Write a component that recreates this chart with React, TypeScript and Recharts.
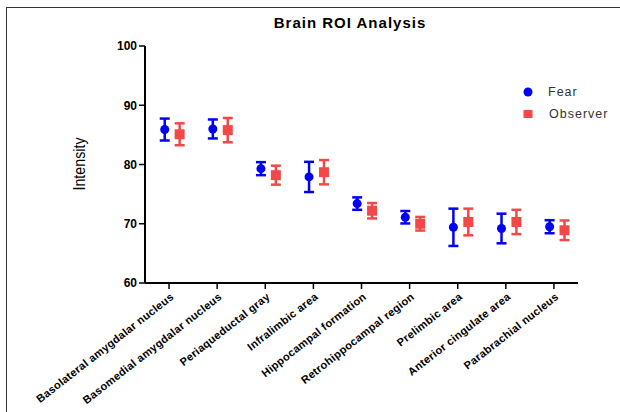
import React from "react";
import {
  ScatterChart,
  Scatter,
  XAxis,
  YAxis,
  ErrorBar,
} from "recharts";

const regions = [
  "Basolateral amygdalar nucleus",
  "Basomedial amygdalar nucleus",
  "Periaqueductal gray",
  "Infralimbic area",
  "Hippocampal formation",
  "Retrohippocampal region",
  "Prelimbic area",
  "Anterior cingulate area",
  "Parabrachial nucleus",
];

const fearMean = [85.9, 86.0, 79.3, 77.9, 73.4, 71.1, 69.4, 69.2, 69.5];
const fearSem = [1.85, 1.6, 1.1, 2.55, 1.05, 1.05, 3.15, 2.5, 1.1];
const observerMean = [85.1, 85.8, 78.2, 78.7, 72.2, 70.0, 70.3, 70.3, 68.9];
const observerSem = [1.85, 2.05, 1.6, 2.05, 1.3, 1.15, 2.25, 2.05, 1.65];
const yTicks = [60, 70, 80, 90, 100];

const FEAR = "#0000F5";
const OBS = "#F24848";
const FONT = "'Liberation Sans', Arial, sans-serif";

// small dodge so the two groups sit side by side at each region
const fearData = regions.map((r, i) => ({ x: i - 0.09, y: fearMean[i], err: fearSem[i], name: r }));
const observerData = regions.map((r, i) => ({ x: i + 0.22, y: observerMean[i], err: observerSem[i], name: r }));

const Dot = (props: any) => <circle cx={props.cx} cy={props.cy} r={4.5} fill={FEAR} />;
const Square = (props: any) => (
  <rect x={props.cx - 5} y={props.cy - 5} width={10} height={10} fill={OBS} />
);

const XTick = (props: any) => {
  const { x, y, payload } = props;
  return (
    <g transform={`translate(${x + 3},${y + 4})`}>
      <text
        transform="rotate(-38)"
        textAnchor="end"
        dy={4}
        fontSize={11}
        fontWeight="bold"
        fontFamily={FONT}
        letterSpacing={0.3}
        fill="#000"
      >
        {regions[payload.value]}
      </text>
    </g>
  );
};

export default function App() {
  return (
    <div style={{ position: "absolute", left: 0, top: 0, width: 620, height: 412, background: "#fff" }}>
      <div
        style={{
          position: "absolute",
          left: 6,
          top: 7,
          width: 614,
          height: 405,
          borderTop: "1px solid #333",
          borderLeft: "1px solid #333",
        }}
      />
      <div
        style={{
          position: "absolute",
          left: 200,
          width: 300,
          top: 14,
          textAlign: "center",
          fontFamily: FONT,
          fontWeight: "bold",
          fontSize: 15,
          letterSpacing: 1,
          lineHeight: "18px",
        }}
      >
        Brain ROI Analysis
      </div>
      <svg width={30} height={80} style={{ position: "absolute", left: 64, top: 124 }}>
        <text
          transform="translate(21,40) rotate(-90)"
          textAnchor="middle"
          fontFamily={FONT}
          fontSize={17}
          textLength={53}
          lengthAdjust="spacingAndGlyphs"
          fill="#000"
        >
          Intensity
        </text>
      </svg>
      <div style={{ position: "absolute", left: 522, top: 84, fontFamily: FONT, fontSize: 12.5, letterSpacing: 1, color: "#333" }}>
        <div style={{ display: "flex", alignItems: "center", height: 16 }}>
          <svg width={12} height={12}>
            <circle cx={6} cy={6} r={4.5} fill={FEAR} />
          </svg>
          <span style={{ marginLeft: 14 }}>Fear</span>
        </div>
        <div style={{ display: "flex", alignItems: "center", height: 16, marginTop: 6 }}>
          <svg width={12} height={12}>
            <rect x={1.5} y={2} width={9} height={8} fill={OBS} />
          </svg>
          <span style={{ marginLeft: 15 }}>Observer</span>
        </div>
      </div>
      <ScatterChart width={620} height={412} margin={{ top: 46, right: 42, bottom: 0, left: 0 }} style={{ position: "absolute", left: 0, top: 0 }}>
        <XAxis
          type="number"
          dataKey="x"
          domain={[-0.5, 8.5]}
          ticks={[0, 1, 2, 3, 4, 5, 6, 7, 8]}
          height={129}
          axisLine={{ stroke: "#000", strokeWidth: 2 }}
          tickLine={{ stroke: "#000", strokeWidth: 1.5 }}
          tickSize={6}
          tick={<XTick />}
          interval={0}
        />
        <YAxis
          type="number"
          dataKey="y"
          domain={[60, 100]}
          ticks={yTicks}
          width={145}
          allowDataOverflow
          axisLine={{ stroke: "#000", strokeWidth: 2 }}
          tickLine={{ stroke: "#000", strokeWidth: 1.5 }}
          tickSize={6}
          tickMargin={2}
          tick={{ fill: "#000", fontSize: 12, fontWeight: "bold", fontFamily: FONT }}
        />
        <Scatter data={fearData} shape={<Dot />} isAnimationActive={false}>
          <ErrorBar dataKey="err" direction="y" width={5} stroke={FEAR} strokeWidth={2.5} />
        </Scatter>
        <Scatter data={observerData} shape={<Square />} isAnimationActive={false}>
          <ErrorBar dataKey="err" direction="y" width={5} stroke={OBS} strokeWidth={2.5} />
        </Scatter>
      </ScatterChart>
    </div>
  );
}
